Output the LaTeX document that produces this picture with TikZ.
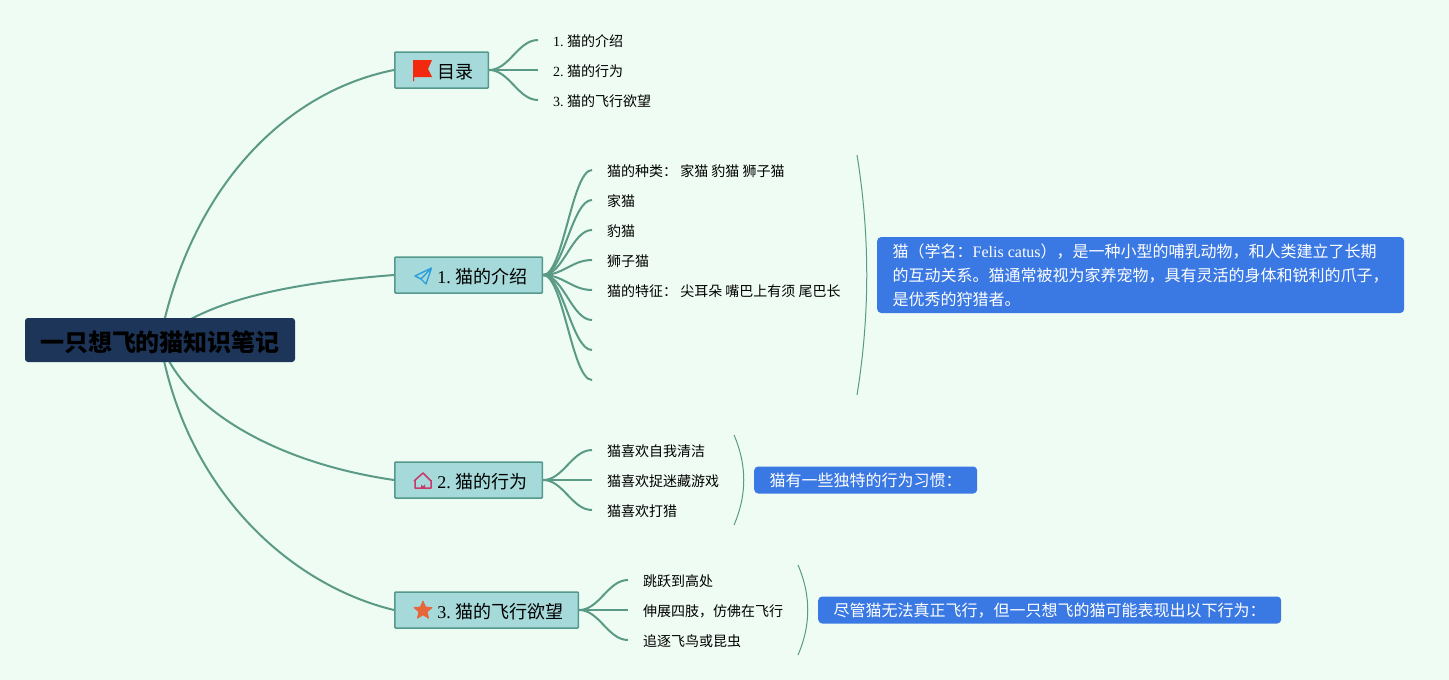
\documentclass[tikz,border=0pt]{standalone}
\usepackage{fontspec}
\setmainfont{Noto Sans CJK SC}
\newfontfamily\latfont{Liberation Serif}
\usetikzlibrary{shapes.geometric}
\usetikzlibrary{backgrounds}
\definecolor{paper}{HTML}{EFFCF3}
\definecolor{branchcol}{HTML}{5A9A86}
\definecolor{topiccol}{HTML}{A5D9DA}
\definecolor{topicline}{HTML}{55998C}
\definecolor{rootcol}{HTML}{1C3558}
\definecolor{notecol}{HTML}{3A78E3}
\definecolor{flagcol}{HTML}{F2280F}
\definecolor{planecol}{HTML}{2F9FDC}
\definecolor{homecol}{HTML}{C83A6A}
\definecolor{starcol}{HTML}{E8653A}
\newcommand{\lat}[1]{{\latfont #1}}
\frenchspacing

\begin{document}
\begin{tikzpicture}[x=1pt,y=-1pt]
		\tikzstyle{root} = [fill=rootcol, rounded corners=3pt, minimum height=44pt, inner xsep=15pt, inner ysep=0pt, text height=22pt, text depth=0pt, font=\fontsize{24}{28}\selectfont\bfseries]
		\tikzstyle{topic} = [draw=topicline, line width=1.5pt, fill=topiccol, rounded corners=1pt, anchor=west, minimum height=36pt, inner xsep=15pt, inner ysep=0pt, text height=16pt, text depth=0pt, font=\fontsize{18}{22}\selectfont]
		\tikzstyle{leaf} = [anchor=west, inner xsep=15pt, inner ysep=0pt, minimum height=16pt, text height=12.6pt, text depth=0pt, font=\fontsize{14}{18}\selectfont]
		\tikzstyle{note} = [fill=notecol, rounded corners=4pt, anchor=west, inner xsep=15.5pt, inner ysep=0pt, text=white, align=left, font=\fontsize{16}{24}\selectfont]
		\tikzstyle{branch} = [draw=branchcol, line width=2pt]
		\tikzstyle{bracket} = [draw=branchcol, line width=1pt]

		\node [root] (root) at (160,340) {一只想飞的猫知识笔记};

		\node [topic] (toc) at (394,70) {\hspace*{27.7pt}目录};
		\node [topic] (intro) at (394,275) {\hspace*{27.7pt}\lat{1. }猫的介绍};
		\node [topic] (habit) at (394,480) {\hspace*{27.7pt}\lat{2. }猫的行为};
		\node [topic] (wish) at (394,610) {\hspace*{27.7pt}\lat{3. }猫的飞行欲望};

		\node [leaf] (toc1) at (538,40) {\lat{1. }猫的介绍};
		\node [leaf] (toc2) at (538,70) {\lat{2. }猫的行为};
		\node [leaf] (toc3) at (538,100) {\lat{3. }猫的飞行欲望};

		\node [leaf] (kinds) at (592,170) {猫的种类： 家猫 豹猫 狮子猫};
		\node [leaf] (house) at (592,200) {家猫};
		\node [leaf] (leopard) at (592,230) {豹猫};
		\node [leaf] (lion) at (592,260) {狮子猫};
		\node [leaf] (traits) at (592,290) {猫的特征： 尖耳朵 嘴巴上有须 尾巴长};
		\node [leaf] (blank1) at (592,320) {};
		\node [leaf] (blank2) at (592,350) {};
		\node [leaf] (blank3) at (592,380) {};

		\node [leaf] (clean) at (592,450) {猫喜欢自我清洁};
		\node [leaf] (hide) at (592,480) {猫喜欢捉迷藏游戏};
		\node [leaf] (hunt) at (592,510) {猫喜欢打猎};

		\node [leaf] (jump) at (628,580) {跳跃到高处};
		\node [leaf] (stretch) at (628,610) {伸展四肢，仿佛在飞行};
		\node [leaf] (chase) at (628,640) {追逐飞鸟或昆虫};

		\node [note, minimum height=76pt] (note1) at (877,275) {猫（学名：\lat{Felis catus}），是一种小型的哺乳动物，和人类建立了长期\\的互动关系。猫通常被视为家养宠物，具有灵活的身体和锐利的爪子，\\是优秀的狩猎者。};
		\node [note, minimum height=27pt, text height=13.6pt, text depth=0pt] (note2) at (754,480) {猫有一些独特的行为习惯：};
		\node [note, minimum height=27pt, text height=13.6pt, text depth=0pt] (note3) at (818,610) {尽管猫无法真正飞行，但一只想飞的猫可能表现出以下行为：};

		% icons
		\fill [flagcol] (413,60) -- (432,60) -- (428,69) -- (432,77) -- (414,77) -- (414,81) -- (413,81) -- cycle;
		\draw [planecol, line width=1.4pt, line join=round] (431.5,268) -- (415,276) -- (421,279) -- (426,284) -- cycle (421,279) -- (431.5,268);
		\draw [homecol, line width=1.5pt, line join=round] (414,481) -- (423,473) -- (431,481) (415,480) -- (415,488) -- (431,488) -- (431,480);
		\fill [homecol] (421,488) -- (421,484) arc[start angle=180, end angle=0, radius=2] -- (425,488) -- cycle;
		\node [star, star points=5, star point ratio=2.2, fill=starcol, draw=starcol, line width=0.8pt, line join=round, inner sep=0pt, minimum size=19pt] (staricon) at (423,610.5) {};

		\begin{pgfonlayer}{background}
			\fill [paper] (0,0) rectangle (1449,680);

			\draw [branch] (root.center) .. controls (190,190) and (283,92) .. (toc.west);
			\draw [branch] (root.center) .. controls (205,300) and (290,283) .. (intro.west);
			\draw [branch] (root.center) .. controls (180,405) and (270,462) .. (habit.west);
			\draw [branch] (root.center) .. controls (185,490) and (290,585) .. (wish.west);

			\draw [branch] (toc.east) .. controls +(20,0) and +(-20,0) .. (toc1.west);
			\draw [branch] (toc.east) -- (toc2.west);
			\draw [branch] (toc.east) .. controls +(20,0) and +(-20,0) .. (toc3.west);

			\draw [branch] (intro.east) .. controls +(20,0) and +(-20,0) .. (kinds.west);
			\draw [branch] (intro.east) .. controls +(20,0) and +(-20,0) .. (house.west);
			\draw [branch] (intro.east) .. controls +(20,0) and +(-20,0) .. (leopard.west);
			\draw [branch] (intro.east) .. controls +(20,0) and +(-20,0) .. (lion.west);
			\draw [branch] (intro.east) .. controls +(20,0) and +(-20,0) .. (traits.west);
			\draw [branch] (intro.east) .. controls +(20,0) and +(-20,0) .. (blank1.west);
			\draw [branch] (intro.east) .. controls +(20,0) and +(-20,0) .. (blank2.west);
			\draw [branch] (intro.east) .. controls +(20,0) and +(-20,0) .. (blank3.west);

			\draw [branch] (habit.east) .. controls +(20,0) and +(-20,0) .. (clean.west);
			\draw [branch] (habit.east) -- (hide.west);
			\draw [branch] (habit.east) .. controls +(20,0) and +(-20,0) .. (hunt.west);

			\draw [branch] (wish.east) .. controls +(20,0) and +(-20,0) .. (jump.west);
			\draw [branch] (wish.east) -- (stretch.west);
			\draw [branch] (wish.east) .. controls +(20,0) and +(-20,0) .. (chase.west);

			% summary brackets
			\draw [bracket] (857,155) .. controls (870,235) and (870,315) .. (857,395);
			\draw [bracket] (734,435) .. controls (747,465) and (747,495) .. (734,525);
			\draw [bracket] (798,565) .. controls (811,595) and (811,625) .. (798,655);
		\end{pgfonlayer}
\end{tikzpicture}
\end{document}
